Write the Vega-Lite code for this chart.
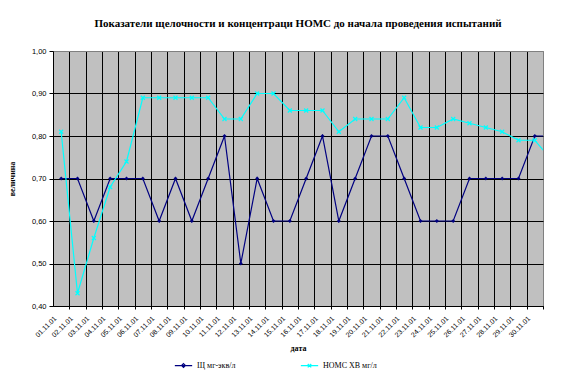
{
  "$schema": "https://vega.github.io/schema/vega-lite/v6.json",
  "width": 490,
  "height": 255,
  "autosize": {"type": "none"},
  "padding": {"left": 53, "top": 51, "right": 34, "bottom": 72},
  "background": "white",
  "title": {"text": "Показатели щелочности и концентраци НОМС до начала проведения испытаний", "font": "Liberation Serif", "fontSize": 11, "fontWeight": "bold", "anchor": "middle", "offset": 18, "color": "black"},
  "config": {
    "view": {"fill": "#C0C0C0", "stroke": "#808080", "strokeWidth": 1},
    "axis": {"labelFont": "Liberation Sans", "labelFontSize": 7.5, "labelColor": "black", "titleFont": "Liberation Serif", "titleFontSize": 8, "titleFontWeight": "bold", "titleColor": "black", "domainColor": "black", "tickColor": "black", "gridOpacity": 1}
  },
  "data": {"values": [
    {"d":1,"s":"Щ мг-экв/л","v":0.7},{"d":2,"s":"Щ мг-экв/л","v":0.7},{"d":3,"s":"Щ мг-экв/л","v":0.6},{"d":4,"s":"Щ мг-экв/л","v":0.7},{"d":5,"s":"Щ мг-экв/л","v":0.7},
    {"d":6,"s":"Щ мг-экв/л","v":0.7},{"d":7,"s":"Щ мг-экв/л","v":0.6},{"d":8,"s":"Щ мг-экв/л","v":0.7},{"d":9,"s":"Щ мг-экв/л","v":0.6},{"d":10,"s":"Щ мг-экв/л","v":0.7},
    {"d":11,"s":"Щ мг-экв/л","v":0.8},{"d":12,"s":"Щ мг-экв/л","v":0.5},{"d":13,"s":"Щ мг-экв/л","v":0.7},{"d":14,"s":"Щ мг-экв/л","v":0.6},{"d":15,"s":"Щ мг-экв/л","v":0.6},
    {"d":16,"s":"Щ мг-экв/л","v":0.7},{"d":17,"s":"Щ мг-экв/л","v":0.8},{"d":18,"s":"Щ мг-экв/л","v":0.6},{"d":19,"s":"Щ мг-экв/л","v":0.7},{"d":20,"s":"Щ мг-экв/л","v":0.8},
    {"d":21,"s":"Щ мг-экв/л","v":0.8},{"d":22,"s":"Щ мг-экв/л","v":0.7},{"d":23,"s":"Щ мг-экв/л","v":0.6},{"d":24,"s":"Щ мг-экв/л","v":0.6},{"d":25,"s":"Щ мг-экв/л","v":0.6},
    {"d":26,"s":"Щ мг-экв/л","v":0.7},{"d":27,"s":"Щ мг-экв/л","v":0.7},{"d":28,"s":"Щ мг-экв/л","v":0.7},{"d":29,"s":"Щ мг-экв/л","v":0.7},{"d":30,"s":"Щ мг-экв/л","v":0.8},
    {"d":31,"s":"Щ мг-экв/л","v":0.8},
    {"d":1,"s":"НОМС ХВ мг/л","v":0.81},{"d":2,"s":"НОМС ХВ мг/л","v":0.43},{"d":3,"s":"НОМС ХВ мг/л","v":0.56},{"d":4,"s":"НОМС ХВ мг/л","v":0.68},{"d":5,"s":"НОМС ХВ мг/л","v":0.74},
    {"d":6,"s":"НОМС ХВ мг/л","v":0.89},{"d":7,"s":"НОМС ХВ мг/л","v":0.89},{"d":8,"s":"НОМС ХВ мг/л","v":0.89},{"d":9,"s":"НОМС ХВ мг/л","v":0.89},{"d":10,"s":"НОМС ХВ мг/л","v":0.89},
    {"d":11,"s":"НОМС ХВ мг/л","v":0.84},{"d":12,"s":"НОМС ХВ мг/л","v":0.84},{"d":13,"s":"НОМС ХВ мг/л","v":0.9},{"d":14,"s":"НОМС ХВ мг/л","v":0.9},{"d":15,"s":"НОМС ХВ мг/л","v":0.86},
    {"d":16,"s":"НОМС ХВ мг/л","v":0.86},{"d":17,"s":"НОМС ХВ мг/л","v":0.86},{"d":18,"s":"НОМС ХВ мг/л","v":0.81},{"d":19,"s":"НОМС ХВ мг/л","v":0.84},{"d":20,"s":"НОМС ХВ мг/л","v":0.84},
    {"d":21,"s":"НОМС ХВ мг/л","v":0.84},{"d":22,"s":"НОМС ХВ мг/л","v":0.89},{"d":23,"s":"НОМС ХВ мг/л","v":0.82},{"d":24,"s":"НОМС ХВ мг/л","v":0.82},{"d":25,"s":"НОМС ХВ мг/л","v":0.84},
    {"d":26,"s":"НОМС ХВ мг/л","v":0.83},{"d":27,"s":"НОМС ХВ мг/л","v":0.82},{"d":28,"s":"НОМС ХВ мг/л","v":0.81},{"d":29,"s":"НОМС ХВ мг/л","v":0.79},{"d":30,"s":"НОМС ХВ мг/л","v":0.79},
    {"d":31,"s":"НОМС ХВ мг/л","v":0.745}
  ]},
  "layer": [
    {
      "mark": {"type": "line", "strokeWidth": 1.2, "clip": true},
      "encoding": {
        "x": {"field": "d", "type": "quantitative", "scale": {"domain": [0.5, 30.5], "nice": false, "zero": false},
              "axis": {"orient": "bottom", "values": [1.5,2.5,3.5,4.5,5.5,6.5,7.5,8.5,9.5,10.5,11.5,12.5,13.5,14.5,15.5,16.5,17.5,18.5,19.5,20.5,21.5,22.5,23.5,24.5,25.5,26.5,27.5,28.5,29.5,30.5],
                       "grid": true, "gridColor": {"condition": {"test": "datum.value > 30", "value": "#808080"}, "value": "black"}, "gridWidth": 1,
                       "labels": false, "ticks": true, "tickSize": 3, "title": null, "domain": true}},
        "y": {"field": "v", "type": "quantitative", "scale": {"domain": [0.4, 1.0], "nice": false, "zero": false},
              "axis": {"values": [0.4,0.5,0.6,0.7,0.8,0.9,1.0], "grid": true, "gridColor": {"condition": {"test": "datum.value > 0.99", "value": "#808080"}, "value": "black"}, "gridWidth": 1,
                       "labelExpr": "replace(format(datum.value, '.2f'), '.', ',')", "tickSize": 4, "labelPadding": 3, "title": "величина", "titlePadding": 15}},
        "color": {"field": "s", "type": "nominal", "scale": {"domain": ["Щ мг-экв/л", "НОМС ХВ мг/л"], "range": ["#000080", "#00FFFF"]},
                  "legend": {"orient": "none", "legendX": 121, "legendY": 305, "direction": "horizontal", "title": null,
                             "labelFont": "Liberation Serif", "labelFontSize": 8, "labelColor": "black", "symbolSize": 300, "symbolStrokeWidth": 1.2, "columnPadding": 62,
                             "encode": {"symbols": {"update": {"shape": {"signal": "datum.value === 'Щ мг-экв/л' ? 'M-1,0H1M0,-0.22L0.22,0L0,0.22L-0.22,0Z' : 'M-1,0H1M-0.2,-0.2L0.2,0.2M-0.2,0.2L0.2,-0.2'"}, "fill": {"value": "transparent"}}}}}}
      }
    },
    {
      "transform": [{"filter": "datum.s === 'Щ мг-экв/л'"}],
      "mark": {"type": "point", "shape": "diamond", "filled": true, "clip": true, "size": 16, "opacity": 1, "color": "#000080"},
      "encoding": {
        "x": {"field": "d", "type": "quantitative",
              "axis": {"orient": "bottom", "values": [1,2,3,4,5,6,7,8,9,10,11,12,13,14,15,16,17,18,19,20,21,22,23,24,25,26,27,28,29,30],
                       "labelExpr": "(datum.value < 10 ? '0' : '') + datum.value + '.11.01'", "labelAngle": -45, "labelAlign": "right", "labelBaseline": "middle",
                       "labelOverlap": false, "labelOffset": -6, "ticks": false, "domain": false, "grid": false, "labelPadding": 11, "labelFont": "Liberation Sans", "labelFontSize": 7,
                       "title": "дата", "titleX": 245, "titleY": 38, "titleAnchor": "middle"}},
        "y": {"field": "v", "type": "quantitative"}
      }
    },
    {
      "transform": [{"filter": "datum.s === 'НОМС ХВ мг/л'"}],
      "mark": {"type": "point", "shape": "M-1,-1L1,1M-1,1L1,-1", "filled": false, "clip": true, "strokeWidth": 1.2, "size": 16, "opacity": 1, "color": "#00FFFF"},
      "encoding": {
        "x": {"field": "d", "type": "quantitative", "axis": null},
        "y": {"field": "v", "type": "quantitative"}
      }
    }
  ],
  "resolve": {"axis": {"x": "independent"}}
}
